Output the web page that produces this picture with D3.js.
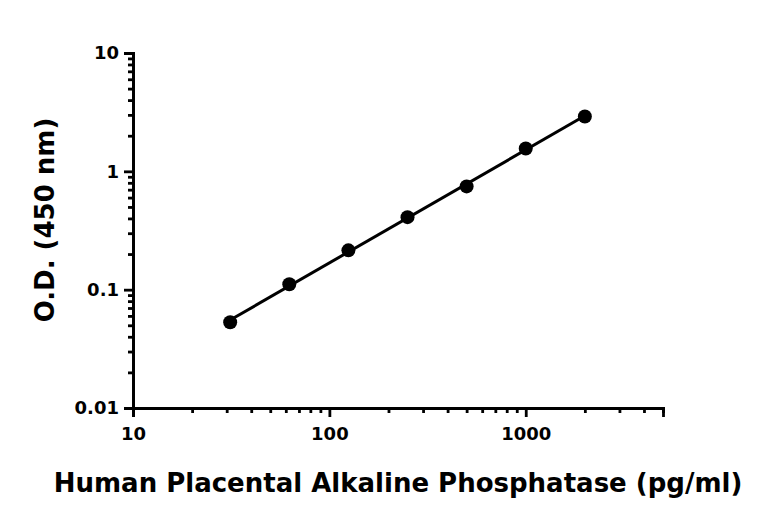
<!DOCTYPE html>
<meta charset="utf-8">
<html>
<body style="margin:0;background:#fff">
<div id="chart"></div>
<script src="https://d3js.org/d3.v7.min.js"></script>
<script>
// concentrations (pg/ml) and measured O.D.
var conc = [31.25, 62.5, 125, 250, 500, 1000, 2000];
var od = [0.053, 0.111, 0.215, 0.41, 0.746, 1.56, 2.91];
var xTicks = [10, 100, 1000];
var yTicks = [0.01, 0.1, 1, 10];

var svg = d3.select("#chart").append("svg").attr("width", 768).attr("height", 519);
var x = d3.scaleLog().domain([10, 5000]).range([133, 663]);
var y = d3.scaleLog().domain([0.01, 10]).range([408, 53]);

function minors(lo, hi) {
  var out = [];
  for (var d = lo; d < hi; d *= 10)
    for (var k = 2; k <= 9; k++) if (d * k <= hi) out.push(d * k);
  return out;
}

// minor ticks
var xa = d3.axisBottom(x).tickValues(minors(10, 5000)).tickSize(5).tickFormat("");
var ya = d3.axisLeft(y).tickValues(minors(0.01, 10)).tickSize(5).tickFormat("");
svg.append("g").attr("transform", "translate(0,408)").call(xa);
svg.append("g").attr("transform", "translate(133,0)").call(ya);

// major ticks + labels
svg.append("g").attr("transform", "translate(0,408)")
  .call(d3.axisBottom(x).tickValues(xTicks).tickSize(9).tickPadding(10).tickFormat(d3.format("d")));
svg.append("g").attr("transform", "translate(133,0)")
  .call(d3.axisLeft(y).tickValues(yTicks).tickSize(9).tickPadding(5).tickFormat(function (d) { return String(d); }));

svg.selectAll(".domain, .tick line").attr("stroke", "#000").attr("stroke-width", 2.8);
svg.selectAll(".tick text").attr("fill", "#000")
  .style("font", "bold 18px 'DejaVu Sans', sans-serif");

// log-log linear fit
var lx = conc.map(Math.log10), ly = od.map(Math.log10);
var mx = d3.mean(lx), my = d3.mean(ly);
var b = d3.sum(lx, function (v, i) { return (v - mx) * (ly[i] - my); }) / d3.sum(lx, function (v) { return (v - mx) * (v - mx); });
var a = my - b * mx;
var fit = function (c) { return Math.pow(10, a + b * Math.log10(c)); };
svg.append("line")
  .attr("x1", x(conc[0])).attr("y1", y(fit(conc[0])))
  .attr("x2", x(conc[conc.length - 1])).attr("y2", y(fit(conc[conc.length - 1])))
  .attr("stroke", "#000").attr("stroke-width", 3);

svg.selectAll("circle").data(conc).enter().append("circle")
  .attr("cx", function (d) { return x(d); })
  .attr("cy", function (d, i) { return y(od[i]); })
  .attr("r", 7).attr("fill", "#000");

svg.append("text").attr("x", 398).attr("y", 492).attr("text-anchor", "middle")
  .style("font", "bold 26px 'DejaVu Sans', sans-serif")
  .text("Human Placental Alkaline Phosphatase (pg/ml)");
svg.append("text").attr("transform", "translate(54,220) rotate(-90)").attr("text-anchor", "middle")
  .style("font", "bold 26px 'DejaVu Sans', sans-serif")
  .text("O.D. (450 nm)");
</script>
</body>
</html>
